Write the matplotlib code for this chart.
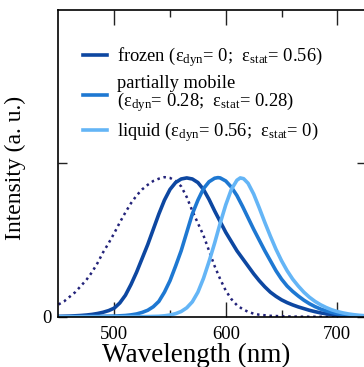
import numpy as np
import matplotlib
matplotlib.use("Agg")
import matplotlib.pyplot as plt
from matplotlib.ticker import FixedLocator, NullFormatter, FixedFormatter

plt.rcParams["font.family"] = ["Liberation Serif", "DejaVu Serif"]
plt.rcParams["mathtext.fontset"] = "custom"
plt.rcParams["mathtext.rm"] = "Liberation Serif"
plt.rcParams["mathtext.it"] = "Liberation Serif:italic"

# Absorption reference (dotted)
abs_wl = [450, 455, 460, 465, 470, 475, 480, 485, 490, 495, 500, 505, 510,
          515, 520, 525, 530, 535, 540, 545, 550, 555, 560, 565, 570, 575,
          580, 585, 590, 595, 600, 605, 610, 615, 620, 625, 630, 640, 650,
          660, 670, 726]
abs_int = [0.08, 0.10, 0.13, 0.16, 0.20, 0.24, 0.29, 0.35, 0.42, 0.48, 0.545,
           0.615, 0.68, 0.74, 0.79, 0.83, 0.86, 0.885, 0.90, 0.91, 0.905,
           0.885, 0.85, 0.78, 0.69, 0.61, 0.53, 0.43, 0.33, 0.245, 0.17,
           0.115, 0.075, 0.05, 0.032, 0.02, 0.013, 0.006, 0.003, 0.001, 0.0,
           0.0]

# Emission spectra
frozen_wl = [450, 455, 460, 465, 470, 475, 480, 485, 490, 495, 500, 505, 510,
             515, 520, 525, 530, 535, 540, 545, 550, 555, 560, 565, 570, 575,
             580, 585, 590, 595, 600, 605, 610, 615, 620, 625, 630, 635, 640,
             645, 650, 655, 660, 665, 670, 675, 680, 685, 690, 695, 700, 705,
             710, 715, 720, 726]
frozen_int = [0.002, 0.003, 0.004, 0.006, 0.008, 0.011, 0.015, 0.021, 0.029,
              0.040, 0.056, 0.090, 0.14, 0.21, 0.29, 0.38, 0.47, 0.57, 0.67,
              0.76, 0.83, 0.875, 0.898, 0.905, 0.898, 0.875, 0.83, 0.765,
              0.69, 0.62, 0.55, 0.49, 0.43, 0.38, 0.33, 0.28, 0.235, 0.195,
              0.16, 0.133, 0.11, 0.092, 0.077, 0.064, 0.053, 0.042, 0.033,
              0.025, 0.019, 0.014, 0.010, 0.007, 0.005, 0.003, 0.002, 0.001]

partial_wl = [450, 470, 490, 500, 505, 510, 515, 520, 525, 530, 535, 540,
              545, 550, 555, 560, 565, 570, 575, 580, 585, 590, 593, 595, 600,
              605, 610, 615, 620, 625, 630, 635, 640, 645, 650, 655, 660, 665,
              670, 675, 680, 685, 690, 695, 700, 705, 710, 715, 720, 726]
partial_int = [0.0, 0.001, 0.003, 0.004, 0.006, 0.008, 0.012, 0.018, 0.028,
               0.042, 0.065, 0.10, 0.16, 0.235, 0.33, 0.43, 0.55, 0.67, 0.76,
               0.835, 0.88, 0.903, 0.907, 0.905, 0.885, 0.845, 0.79, 0.72,
               0.645, 0.57, 0.50, 0.43, 0.365, 0.30, 0.245, 0.20, 0.165,
               0.135, 0.108, 0.085, 0.066, 0.05, 0.038, 0.028, 0.02, 0.014,
               0.010, 0.007, 0.005, 0.003]

liquid_wl = [450, 500, 520, 530, 540, 545, 550, 555, 560, 565, 570, 575, 580,
             585, 590, 595, 600, 605, 610, 613, 616, 620, 625, 630, 635, 640,
             645, 650, 655, 660, 665, 670, 675, 680, 685, 690, 695, 700, 705,
             710, 715, 720, 726]
liquid_int = [0.0, 0.0, 0.0005, 0.001, 0.003, 0.006, 0.011, 0.02, 0.034,
              0.058, 0.097, 0.16, 0.25, 0.36, 0.48, 0.61, 0.73, 0.83, 0.89,
              0.905, 0.90, 0.87, 0.80, 0.71, 0.615, 0.525, 0.44, 0.365, 0.30,
              0.245, 0.20, 0.16, 0.127, 0.10, 0.078, 0.06, 0.045, 0.034,
              0.025, 0.018, 0.013, 0.009, 0.006]

labels = [
    r"frozen (ε$_{\rm dyn}$= 0;  ε$_{\rm stat}$= 0.56)",
    "partially mobile\n" + r"(ε$_{\rm dyn}$= 0.28;  ε$_{\rm stat}$= 0.28)",
    r"liquid (ε$_{\rm dyn}$= 0.56;  ε$_{\rm stat}$= 0)",
]
colors = ["#0D47A1", "#1E78D2", "#64B5F6"]
abs_color = "#23237A"

x_major = [500, 600, 700]
x_minor = [550, 650]

fig = plt.figure(figsize=(3.64, 3.67), dpi=100)
ax = fig.add_axes([0.1607, 0.137, 0.8456, 0.8358])

ax.plot(abs_wl, abs_int, color=abs_color, lw=1.8, linestyle=(0, (1, 1.5)),
        dash_capstyle="butt")
for wl, inten, c, lab in zip([frozen_wl, partial_wl, liquid_wl],
                             [frozen_int, partial_int, liquid_int],
                             colors, labels):
    ax.plot(wl, inten, color=c, lw=2.6, label=lab, solid_joinstyle="round")

ax.set_xlim(450, 726)
ax.set_ylim(0, 2.0)

ax.xaxis.set_major_locator(FixedLocator(x_major))
ax.xaxis.set_minor_locator(FixedLocator(x_minor))
ax.yaxis.set_major_locator(FixedLocator([0, 1]))
ax.yaxis.set_major_formatter(FixedFormatter(["0", ""]))
ax.xaxis.set_minor_formatter(NullFormatter())

ax.tick_params(axis="x", which="major", direction="in", length=11, width=1,
               top=True, labelsize=13.5, pad=7, color="#222222")
ax.tick_params(axis="x", which="minor", direction="in", length=5, width=1,
               top=True, color="#222222")
ax.tick_params(axis="y", which="major", direction="in", length=6.5, width=1,
               right=True, labelsize=13.5, pad=5, color="#222222")

for s in ax.spines.values():
    s.set_linewidth(1.2)

ax.set_xlabel("Wavelength (nm)", fontsize=19.5)
ax.xaxis.set_label_coords(0.447, -0.086)
ax.set_ylabel("Intensity (a. u.)", fontsize=17)
ax.yaxis.set_label_coords(-0.107, 0.486)

leg = ax.legend(loc="upper left", bbox_to_anchor=(0.08, 0.885), frameon=False,
                fontsize=13.3, handlelength=1.3, handletextpad=0.55,
                labelspacing=0.3, borderaxespad=0, borderpad=0)
leg.get_texts()[1].set_linespacing(0.92)

fig.savefig("out.png", dpi=100)
